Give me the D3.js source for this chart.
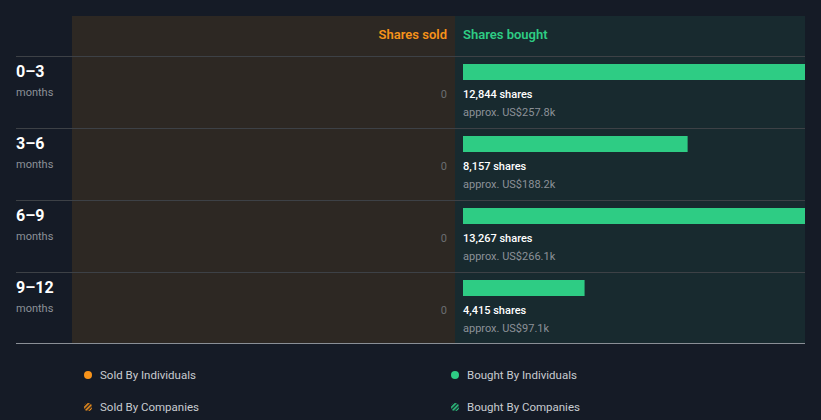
<!DOCTYPE html>
<html><head><meta charset="utf-8">
<script src="https://cdn.jsdelivr.net/npm/d3@7"></script>
<style>html,body{margin:0;padding:0;background:#151b26;}svg{display:block;font-family:Roboto,"Noto Sans",sans-serif;}</style>
</head><body>
<svg id="c" width="821" height="420"></svg>
<script>
const periods = ["0–3", "3–6", "6–9", "9–12"];
const periodUnit = "months";
const soldShares = [0, 0, 0, 0];
const boughtShares = [12844, 8157, 13267, 4415];
const boughtValue = ["US$257.8k", "US$188.2k", "US$266.1k", "US$97.1k"];
const legendItems = [
  {label: "Sold By Individuals", kind: "sold", hatch: false},
  {label: "Bought By Individuals", kind: "bought", hatch: false},
  {label: "Sold By Companies", kind: "sold", hatch: true},
  {label: "Bought By Companies", kind: "bought", hatch: true}
];
const scaleMax = 12420;

(function(){
const svg = d3.select("#c");
const orange = "#f7931a", green = "#2ecc84";
const L = 16, soldX0 = 72, mid = 455, R = 805, T = 16, headerH = 40, rowH = 72;
const B = T + headerH + rowH * periods.length - 1;

const defs = svg.append("defs");
defs.append("clipPath").attr("id","bclip").append("rect")
  .attr("x", mid).attr("y", 0).attr("width", R - mid).attr("height", 420);
[["hs", orange],["hb", green]].forEach(([id,col])=>{
  const p = defs.append("pattern").attr("id", id).attr("patternUnits","userSpaceOnUse")
    .attr("width",3).attr("height",3).attr("patternTransform","rotate(45)");
  p.append("rect").attr("width",1.6).attr("height",3).attr("fill",col);
});

svg.append("rect").attr("x", soldX0).attr("y", T).attr("width", mid - soldX0).attr("height", B - T).attr("fill", "#2d2823");
svg.append("rect").attr("x", mid).attr("y", T).attr("width", R - mid).attr("height", B - T).attr("fill", "#182a2f");

svg.append("text").attr("x", mid - 8).attr("y", 39).attr("text-anchor","end")
  .attr("fill", orange).attr("font-size", 13).attr("font-weight", 600).text("Shares sold");
svg.append("text").attr("x", mid + 8).attr("y", 39)
  .attr("fill", green).attr("font-size", 13).attr("font-weight", 600).text("Shares bought");

const y = d3.scaleBand().domain(periods).range([T + headerH, T + headerH + rowH * periods.length]);
const x = d3.scaleLinear().domain([0, scaleMax]).range([mid + 8, R]);

svg.selectAll(".rl").data(periods).join("line")
  .attr("x1", L).attr("x2", R).attr("y1", d => y(d) + 0.5).attr("y2", d => y(d) + 0.5)
  .attr("stroke", "#3d4146").attr("stroke-width", 1);

const g = svg.selectAll(".row").data(periods).join("g").attr("transform", d => `translate(0,${y(d)})`);
g.append("text").attr("x", L).attr("y", 21).attr("fill", "#fff").attr("font-size", 16).attr("font-weight", 700).text(d => d);
g.append("text").attr("x", L).attr("y", 40).attr("fill", "#8c9198").attr("font-size", 11).text(periodUnit);
g.append("text").attr("x", mid - 8).attr("y", 42).attr("text-anchor","end").attr("fill", "#6b6e72").attr("font-size", 11)
  .text((d,i) => soldShares[i]);
g.append("rect").attr("clip-path", "url(#bclip)")
  .attr("x", x(0)).attr("y", 8).attr("height", 16)
  .attr("width", (d,i) => x(boughtShares[i]) - x(0)).attr("fill", green);
g.append("text").attr("x", mid + 8).attr("y", 42).attr("fill", "#fff").attr("font-size", 11).attr("font-weight", 500)
  .text((d,i) => d3.format(",")(boughtShares[i]) + " shares");
g.append("text").attr("x", mid + 8).attr("y", 60).attr("fill", "#8c9198").attr("font-size", 11)
  .text((d,i) => "approx. " + boughtValue[i]);

svg.append("line").attr("x1", L).attr("x2", R).attr("y1", B + 0.5).attr("y2", B + 0.5)
  .attr("stroke", "#8a8f96").attr("stroke-width", 1);

const lg = svg.selectAll(".lg").data(legendItems).join("g")
  .attr("transform", (d,i) => `translate(${i % 2 === 0 ? 88 : 455},${i < 2 ? 375 : 407})`);
lg.append("circle").attr("r", 4).attr("fill", d => d.hatch ? `url(#${d.kind === "sold" ? "hs" : "hb"})` : (d.kind === "sold" ? orange : green));
lg.append("text").attr("x", 12).attr("y", 4).attr("fill", "#c8cbd0").attr("font-size", 11.5).text(d => d.label);
})();
</script>
</body></html>
